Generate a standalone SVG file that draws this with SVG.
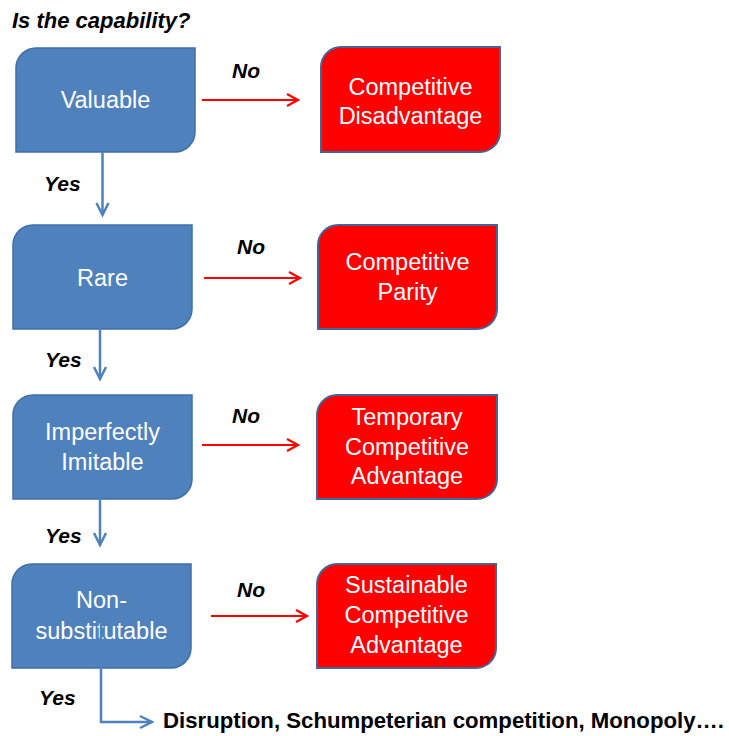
<svg xmlns="http://www.w3.org/2000/svg" width="729" height="736" viewBox="0 0 729 736">
  <style>
    .q { fill: #4F81BD; stroke: #3F6FA8; stroke-width: 1.5; }
    .o { fill: #FF0000; stroke: #41669A; stroke-width: 2; }
    .bt { font-family: "Liberation Sans", Arial, sans-serif; font-size: 23.5px; fill: #FFFFFF; text-anchor: middle; }
    .lbl { font-family: "Liberation Sans", Arial, sans-serif; font-size: 21px; font-weight: bold; font-style: italic; fill: #000000; }
    .title { font-size: 22px; }
    .end { font-family: "Liberation Sans", Arial, sans-serif; font-size: 22.2px; font-weight: bold; fill: #000000; }
    .yes { fill: none; stroke: #4F81BD; stroke-width: 2.5; }
    .no { fill: none; stroke: #FF0000; stroke-width: 2.2; }
  </style>
  <defs>
    <marker id="headBlue" markerUnits="userSpaceOnUse" markerWidth="16" markerHeight="16" refX="13" refY="8" orient="auto">
      <path d="M1,2 L13,8 L1,14" fill="none" stroke="#4F81BD" stroke-width="2.5"/>
    </marker>
    <marker id="headRed" markerUnits="userSpaceOnUse" markerWidth="16" markerHeight="16" refX="12" refY="8" orient="auto">
      <path d="M1,2 L12,8 L1,14" fill="none" stroke="#FF0000" stroke-width="2.2"/>
    </marker>
  </defs>

  <rect width="729" height="736" fill="#FFFFFF"/>

  <text class="lbl title" x="12" y="28">Is the capability?</text>

  <!-- question boxes -->
  <g id="valuable">
    <path class="q" d="M36,48 H195 V132 A20,20 0 0 1 175,152 H16 V68 A20,20 0 0 1 36,48 Z"/>
    <text class="bt" x="105.5" y="108">Valuable</text>
  </g>
  <g id="rare">
    <path class="q" d="M33,225 H192 V309 A20,20 0 0 1 172,329 H13 V245 A20,20 0 0 1 33,225 Z"/>
    <text class="bt" x="102.5" y="286">Rare</text>
  </g>
  <g id="imitable">
    <path class="q" d="M33,395 H192 V479 A20,20 0 0 1 172,499 H13 V415 A20,20 0 0 1 33,395 Z"/>
    <text class="bt" x="102.5" y="440">Imperfectly</text>
    <text class="bt" x="102.5" y="470">Imitable</text>
  </g>
  <g id="nonsubstitutable">
    <path class="q" d="M32,564 H191 V648 A20,20 0 0 1 171,668 H12 V584 A20,20 0 0 1 32,564 Z"/>
    <text class="bt" x="101.5" y="608">Non-</text>
    <text class="bt" x="101.5" y="639">substitutable</text>
  </g>

  <!-- outcome boxes -->
  <g id="disadvantage">
    <path class="o" d="M341,47 H500 V132 A20,20 0 0 1 480,152 H321 V67 A20,20 0 0 1 341,47 Z"/>
    <text class="bt" x="410.5" y="95">Competitive</text>
    <text class="bt" x="410.5" y="124">Disadvantage</text>
  </g>
  <g id="parity">
    <path class="o" d="M338,225 H497 V309 A20,20 0 0 1 477,329 H318 V245 A20,20 0 0 1 338,225 Z"/>
    <text class="bt" x="407.5" y="270">Competitive</text>
    <text class="bt" x="407.5" y="300">Parity</text>
  </g>
  <g id="temporary">
    <path class="o" d="M337,395 H497 V479 A20,20 0 0 1 477,499 H317 V415 A20,20 0 0 1 337,395 Z"/>
    <text class="bt" x="407" y="425">Temporary</text>
    <text class="bt" x="407" y="455">Competitive</text>
    <text class="bt" x="407" y="484">Advantage</text>
  </g>
  <g id="sustainable">
    <path class="o" d="M337,564 H496 V648 A20,20 0 0 1 476,668 H317 V584 A20,20 0 0 1 337,564 Z"/>
    <text class="bt" x="406.5" y="593">Sustainable</text>
    <text class="bt" x="406.5" y="623">Competitive</text>
    <text class="bt" x="406.5" y="653">Advantage</text>
  </g>

  <!-- connectors -->
  <g id="connectors">
    <line class="yes" x1="102.5" y1="152" x2="102.5" y2="215" marker-end="url(#headBlue)"/>
    <line class="yes" x1="100" y1="315" x2="100" y2="379" marker-end="url(#headBlue)" stroke="#5B8CC8"/>
    <line class="yes" x1="100" y1="482" x2="100" y2="545" marker-end="url(#headBlue)" stroke="#5B8CC8"/>
    <path class="yes" d="M101,618 V722 H152" marker-end="url(#headBlue)" stroke="#5B8CC8"/>

    <line class="no" x1="202" y1="100" x2="298" y2="100" marker-end="url(#headRed)"/>
    <line class="no" x1="204" y1="278" x2="300" y2="278" marker-end="url(#headRed)"/>
    <line class="no" x1="202" y1="445" x2="298" y2="445" marker-end="url(#headRed)"/>
    <line class="no" x1="211" y1="616" x2="307" y2="616" marker-end="url(#headRed)"/>

    <text class="lbl" x="44" y="191">Yes</text>
    <text class="lbl" x="45" y="367">Yes</text>
    <text class="lbl" x="45" y="543">Yes</text>
    <text class="lbl" x="39" y="705">Yes</text>

    <text class="lbl" x="232" y="78">No</text>
    <text class="lbl" x="237" y="254">No</text>
    <text class="lbl" x="232" y="423">No</text>
    <text class="lbl" x="237" y="597">No</text>
  </g>

  <text class="end" x="163" y="728">Disruption, Schumpeterian competition, Monopoly….</text>
</svg>
